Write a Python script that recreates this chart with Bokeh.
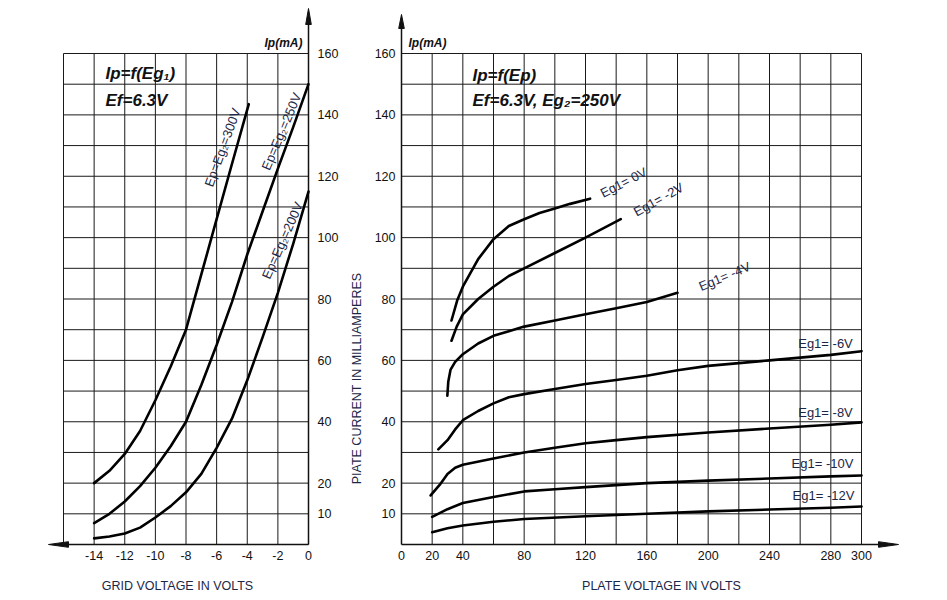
import math
from bokeh.plotting import figure
from bokeh.models import Range1d
from bokeh.embed import file_html
from bokeh.resources import INLINE
from bokeh.core.properties import value

# ---------------- data ----------------
# Left panel: Ip = f(Eg1), Ef = 6.3 V
eg_300 = [-14, -13, -12, -11, -10, -9, -8, -7, -6, -5, -3.9]
ip_300 = [20, 24, 29.5, 37, 47, 58, 70, 88, 106, 124, 143.5]
eg_250 = [-14, -13, -12, -11, -10, -9, -8, -7, -6, -5, -4, -3, -2, -1, 0]
ip_250 = [7, 10, 14, 19, 25, 32, 40, 52, 65, 79, 94.5, 108.5, 122.5, 136, 150]
eg_200 = [-14, -13, -12, -11, -10, -9, -8, -7, -6, -5, -4, -3, -2, -1, 0]
ip_200 = [2, 2.6, 3.6, 5.5, 8.8, 12.5, 17, 23, 31.5, 41, 53.5, 67.5, 82, 98, 115]
left_names = ["Ep=Eg\u2082=300V", "Ep=Eg\u2082=250V", "Ep=Eg\u2082=200V"]

# Right panel: Ip = f(Ep), Ef = 6.3 V, Eg2 = 250 V
ep_0 = [32.6, 36.3, 40, 50, 60, 70, 80, 90, 100, 110, 123]
ip_0 = [73, 79.5, 84, 93, 99.5, 103.8, 106, 108, 109.5, 111, 112.7]
ep_m2 = [32.6, 36, 40, 50, 60, 70, 80, 100, 120, 143]
ip_m2 = [66.4, 71, 75, 80, 84, 87.5, 90, 95, 100, 106]
ep_m4 = [29.9, 30.5, 32, 35, 40, 50, 60, 70, 80, 100, 120, 140, 160, 180]
ip_m4 = [48.5, 53, 57, 59.5, 62, 65.5, 68, 69.5, 71, 73, 75, 77, 79, 82]
ep_m6 = [24, 30, 35, 40, 50, 60, 70, 80, 100, 120, 140, 160, 180, 200, 240, 280, 300]
ip_m6 = [31, 34, 37.5, 40.5, 43.5, 46, 48, 49, 50.7, 52.3, 53.6, 55, 56.8, 58.2, 60, 61.8, 63]
ep_m8 = [19, 25, 30, 35, 40, 60, 80, 100, 120, 140, 160, 200, 240, 280, 300]
ip_m8 = [16, 19.5, 23, 25, 26, 28, 30, 31.5, 33, 34, 35, 36.5, 37.8, 39, 39.8]
ep_m10 = [20, 30, 40, 60, 80, 100, 120, 160, 200, 240, 280, 300]
ip_m10 = [9, 11.5, 13.5, 15.5, 17.3, 18, 18.7, 20, 20.8, 21.5, 22.2, 22.5]
ep_m12 = [20, 30, 40, 60, 80, 120, 160, 200, 240, 280, 300]
ip_m12 = [4, 5.3, 6.2, 7.4, 8.3, 9.2, 10, 10.8, 11.4, 12, 12.4]
right_names = ["Eg1= 0V", "Eg1= -2V", "Eg1= -4V", "Eg1= -6V", "Eg1= -8V", "Eg1= -10V", "Eg1= -12V"]

# ticks / grid
eg_grid = [-16, -14, -12, -10, -8, -6, -4, -2, 0]
ep_grid = [20, 40, 60, 80, 100, 120, 140, 160, 180, 200, 220, 240, 260, 280, 300]
ip_grid = [10, 20, 30, 40, 50, 60, 70, 80, 90, 100, 110, 120, 130, 140, 150, 160]
eg_ticks = [-14, -12, -10, -8, -6, -4, -2, 0]
ep_ticks = [0, 20, 40, 80, 120, 160, 200, 240, 280, 300]
ip_ticks = [10, 20, 40, 60, 80, 100, 120, 140, 160]

# ---------------- layout calibration (page pixels) ----------------
W, H = 940, 596
M = 0
EP0, EPS = 401.0, 460.0 / 300.0
EG0, EGS = 308.0, 245.0 / 16.0
IP0, IPS = 544.0, 491.0 / 160.0


def ep_at(px):
    return (px - EP0) / EPS


def eg_at(px):
    return (px - EG0) / EGS


def ip_at(py):
    return (IP0 - py) / IPS


p = figure(width=W, height=H, output_backend="svg", toolbar_location=None,
           x_axis_type=None, y_axis_type=None, min_border=0, title=None,
           x_range=Range1d(ep_at(M), ep_at(M + W)),
           y_range=Range1d(ip_at(M + H), ip_at(M)))
p.extra_x_ranges = {"eg": Range1d(eg_at(M), eg_at(M + W))}
p.outline_line_color = None
p.background_fill_color = "white"
p.border_fill_color = "white"

GRID = "#1a1a1a"
INK = "#111111"
NAVY = "#1c2747"
FONT = value("Liberation Sans")

# ---- left grid ----
p.segment(x0=eg_grid, y0=[0] * len(eg_grid), x1=eg_grid, y1=[160] * len(eg_grid),
          x_range_name="eg", line_color=GRID, line_width=1)
p.segment(x0=[-16] * len(ip_grid), y0=ip_grid, x1=[0] * len(ip_grid), y1=ip_grid,
          x_range_name="eg", line_color=GRID, line_width=1)
# ---- right grid ----
p.segment(x0=ep_grid, y0=[0] * len(ep_grid), x1=ep_grid, y1=[160] * len(ep_grid),
          line_color=GRID, line_width=1)
p.segment(x0=[0] * len(ip_grid), y0=ip_grid, x1=[300] * len(ip_grid), y1=ip_grid,
          line_color=GRID, line_width=1)

# ---- axes lines with arrows ----
l_tip_x = eg_at(48)
l_base_x = eg_at(68)
l_tip_y = ip_at(8)
l_base_y = ip_at(24)
p.segment(x0=[l_base_x, 0], y0=[0, 0], x1=[0, 0], y1=[0, l_base_y],
          x_range_name="eg", line_color=INK, line_width=1.5)
hw_y = 2.8 / IPS
hw_x_eg = 2.8 / EGS
p.patches(xs=[[l_tip_x, l_base_x, l_base_x], [0, -hw_x_eg, hw_x_eg]],
          ys=[[0, hw_y, -hw_y], [l_tip_y, l_base_y, l_base_y]],
          x_range_name="eg", fill_color=INK, line_color=INK, line_width=1)

r_tip_x = ep_at(898)
r_base_x = ep_at(878)
r_tip_y = ip_at(14)
r_base_y = ip_at(28)
hw_x_ep = 2.8 / EPS
p.segment(x0=[0, 0], y0=[0, 0], x1=[r_base_x, 0], y1=[0, r_base_y],
          line_color=INK, line_width=1.5)
p.patches(xs=[[r_tip_x, r_base_x, r_base_x], [0, -hw_x_ep, hw_x_ep]],
          ys=[[0, hw_y, -hw_y], [r_tip_y, r_base_y, r_base_y]],
          fill_color=INK, line_color=INK, line_width=1)

# ---- curves ----
for xs, ys in [(eg_300, ip_300), (eg_250, ip_250), (eg_200, ip_200)]:
    p.line(xs, ys, x_range_name="eg", line_color="black", line_width=2.6,
           line_join="round", line_cap="round")
for xs, ys in [(ep_0, ip_0), (ep_m2, ip_m2), (ep_m4, ip_m4), (ep_m6, ip_m6),
               (ep_m8, ip_m8), (ep_m10, ip_m10), (ep_m12, ip_m12)]:
    p.line(xs, ys, line_color="black", line_width=2.6,
           line_join="round", line_cap="round")

# ---- tick labels ----
tick_y = ip_at(555)
p.text(x=eg_ticks, y=[tick_y] * len(eg_ticks), text=[str(t) for t in eg_ticks],
       x_range_name="eg", text_font=FONT, text_font_size="12.5px", text_color=INK,
       text_align="center", text_baseline="middle")
p.text(x=ep_ticks, y=[tick_y] * len(ep_ticks), text=[str(t) for t in ep_ticks],
       text_font=FONT, text_font_size="12.5px", text_color=INK,
       text_align="center", text_baseline="middle")
p.text(x=[0] * len(ip_ticks), y=ip_ticks, text=[str(t) for t in ip_ticks],
       x_range_name="eg", x_offset=9, text_font=FONT, text_font_size="12.5px",
       text_color=INK, text_align="left", text_baseline="middle")
p.text(x=[0] * len(ip_ticks), y=ip_ticks, text=[str(t) for t in ip_ticks],
       x_offset=-6, text_font=FONT, text_font_size="12.5px",
       text_color=INK, text_align="right", text_baseline="middle")

# ---- axis titles ----
p.text(x=[eg_at(177)], y=[ip_at(585)], text=["GRID VOLTAGE IN VOLTS"], x_range_name="eg",
       text_font=FONT, text_font_size="12.5px", text_color=NAVY,
       text_align="center", text_baseline="middle")
p.text(x=[ep_at(661)], y=[ip_at(585)], text=["PLATE VOLTAGE IN VOLTS"],
       text_font=FONT, text_font_size="12.5px", text_color=NAVY,
       text_align="center", text_baseline="middle")
p.text(x=[ep_at(356)], y=[ip_at(378)], text=["PIATE CURRENT IN MILLIAMPERES"],
       angle=math.pi / 2, text_font=FONT, text_font_size="12.5px", text_color=NAVY,
       text_align="center", text_baseline="middle")

# ---- Ip(mA) ----
p.text(x=[eg_at(302)], y=[ip_at(42)], text=["Ip(mA)"], x_range_name="eg",
       text_font=FONT, text_font_size="12px", text_font_style="bold italic",
       text_color=INK, text_align="right", text_baseline="middle")
p.text(x=[ep_at(408)], y=[ip_at(42)], text=["Ip(mA)"],
       text_font=FONT, text_font_size="12px", text_font_style="bold italic",
       text_color=INK, text_align="left", text_baseline="middle")

# ---- panel titles ----
p.text(x=[eg_at(105), eg_at(105)], y=[ip_at(73), ip_at(100)],
       text=["Ip=f(Eg\u2081)", "Ef=6.3V"], x_range_name="eg",
       text_font=FONT, text_font_size="17px", text_font_style="bold italic",
       text_color=INK, text_align="left", text_baseline="middle")
p.text(x=[ep_at(472), ep_at(472)], y=[ip_at(75), ip_at(100)],
       text=["Ip=f(Ep)", "Ef=6.3V, Eg\u2082=250V"],
       text_font=FONT, text_font_size="17px", text_font_style="bold italic",
       text_color=INK, text_align="left", text_baseline="middle")

# ---- curve labels ----
lx = [eg_at(222), eg_at(281), eg_at(282)]
ly = [ip_at(147), ip_at(131), ip_at(240)]
la = [math.radians(70), math.radians(67), math.radians(66)]
p.text(x=lx, y=ly, text=left_names, angle=la, x_range_name="eg",
       text_font=FONT, text_font_size="13px", text_color=NAVY,
       text_align="center", text_baseline="middle")

rx = [ep_at(623), ep_at(658), ep_at(724), ep_at(825), ep_at(825), ep_at(822), ep_at(823)]
ry = [ip_at(182), ip_at(199), ip_at(276), ip_at(343), ip_at(412), ip_at(463), ip_at(495)]
ra = [math.radians(27), math.radians(29), math.radians(23), 0, 0, 0, 0]
p.text(x=rx, y=ry, text=right_names, angle=ra,
       text_font=FONT, text_font_size="13px", text_color=NAVY,
       text_align="center", text_baseline="middle")

open("out.html", "w").write(file_html(p, INLINE))
